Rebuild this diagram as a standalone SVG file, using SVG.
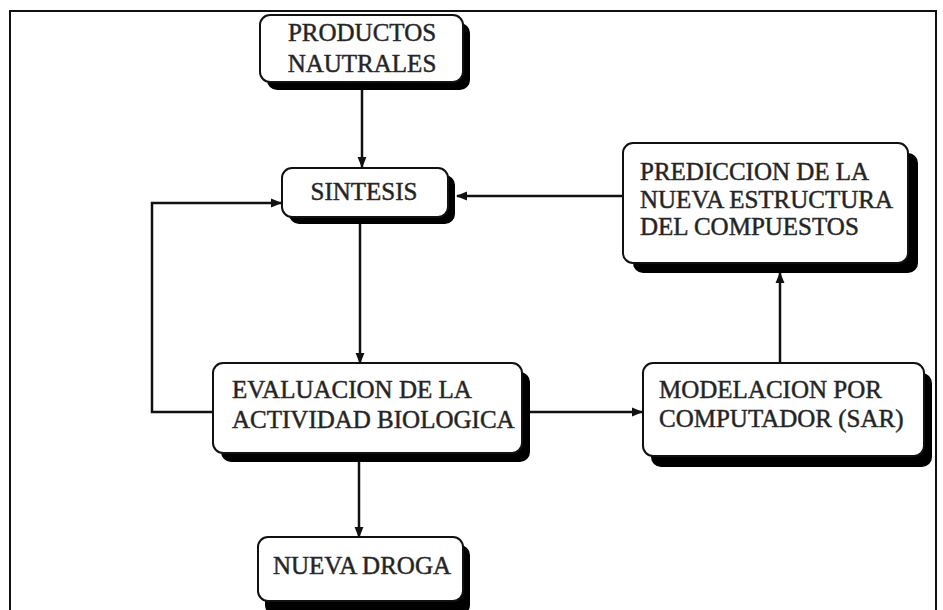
<svg xmlns="http://www.w3.org/2000/svg" width="943" height="610" viewBox="0 0 943 610">
<style>
.sh{fill:#000}
.bx{fill:#fff;stroke:#111;stroke-width:2}
.t{font-family:"Liberation Serif","Times New Roman",serif;font-size:25px;fill:#222;stroke:#333;stroke-width:0.5}
.c{text-anchor:middle}
.ln{fill:none;stroke:#111;stroke-width:2.5}
</style>
<defs>
<marker id="ah" viewBox="0 0 10 10" refX="9" refY="5" markerWidth="4.5" markerHeight="4.5" orient="auto" markerUnits="strokeWidth">
<path d="M0,1 L10,5 L0,9 z" fill="#111"/>
</marker>
</defs>
<rect width="943" height="610" fill="#fff"/>
<rect x="10" y="11" width="926" height="620" fill="none" stroke="#111" stroke-width="2"/>
<g id="connectors">
<line class="ln" x1="362" y1="90" x2="362" y2="167" marker-end="url(#ah)"/>
<line class="ln" x1="360" y1="223" x2="360" y2="363" marker-end="url(#ah)"/>
<polyline class="ln" points="213,412 152,412 152,203 281,203" marker-end="url(#ah)"/>
<line class="ln" x1="623" y1="196" x2="457" y2="196" marker-end="url(#ah)"/>
<line class="ln" x1="530" y1="412" x2="642" y2="412" marker-end="url(#ah)"/>
<line class="ln" x1="780" y1="363" x2="780" y2="273" marker-end="url(#ah)"/>
<line class="ln" x1="359" y1="462" x2="359" y2="537" marker-end="url(#ah)"/>
</g>
<g id="productos">
<rect class="sh" x="267" y="23" width="203" height="67" rx="10"/>
<rect class="bx" x="260" y="15" width="203" height="67" rx="10"/>
<text class="t c" x="362" y="41">PRODUCTOS</text>
<text class="t c" x="362" y="72">NAUTRALES</text>
</g>
<g id="sintesis">
<rect class="sh" x="289" y="175" width="166" height="49" rx="10"/>
<rect class="bx" x="282" y="168" width="166" height="49" rx="10"/>
<text class="t c" x="364" y="200">SINTESIS</text>
</g>
<g id="prediccion">
<rect class="sh" x="633" y="153" width="285" height="120" rx="10"/>
<rect class="bx" x="623" y="143" width="285" height="120" rx="10"/>
<text class="t" x="640" y="180">PREDICCION DE LA</text>
<text class="t" x="640" y="208">NUEVA ESTRUCTURA</text>
<text class="t" x="640" y="235">DEL COMPUESTOS</text>
</g>
<g id="evaluacion">
<rect class="sh" x="221" y="372" width="309" height="90" rx="10"/>
<rect class="bx" x="213" y="363" width="309" height="90" rx="10"/>
<text class="t" x="232" y="398">EVALUACION DE LA</text>
<text class="t" x="232" y="428">ACTIVIDAD BIOLOGICA</text>
</g>
<g id="modelacion">
<rect class="sh" x="651" y="373" width="281" height="94" rx="10"/>
<rect class="bx" x="643" y="363" width="281" height="93" rx="10"/>
<text class="t" x="659" y="398">MODELACION POR</text>
<text class="t" x="659" y="427">COMPUTADOR (SAR)</text>
</g>
<g id="nueva-droga">
<rect class="sh" x="265" y="545" width="205" height="70" rx="10"/>
<rect class="bx" x="258" y="537" width="205" height="64" rx="10"/>
<text class="t c" x="362" y="574">NUEVA DROGA</text>
</g>
</svg>
